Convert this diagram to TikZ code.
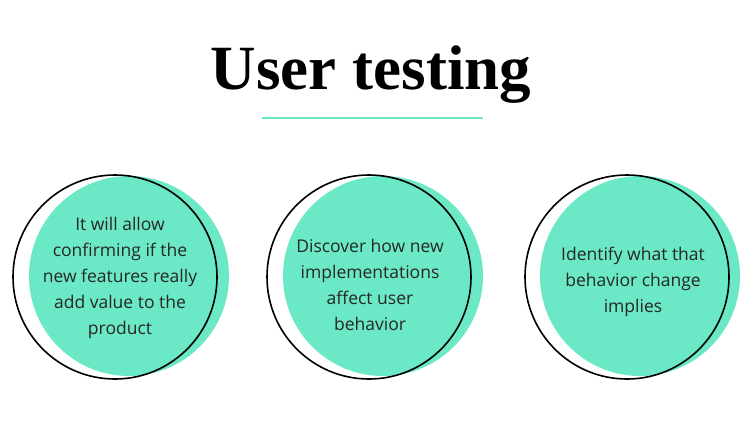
\documentclass[tikz,border=0pt]{standalone}
\usepackage{fontspec}
\setmainfont{Open Sans}
\newfontfamily\titlefont{Liberation Serif}
\definecolor{teal}{HTML}{6BE8C6}
\begin{document}
\begin{tikzpicture}[x=1pt,y=-1pt,
  blob/.style={circle,fill=teal,minimum size=200pt,inner sep=0pt},
  ring/.style={circle,draw=black,line width=1.6pt,minimum size=204pt,inner sep=0pt},
  txt/.style={align=center,font=\fontsize{17.5}{26}\selectfont,text=black!85}]
\useasboundingbox (0,0) rectangle (750,440);
\node (title) at (371,75) {\titlefont\bfseries\fontsize{63}{66}\selectfont User testing};
\draw[teal,line width=1.2pt] (262,118) coordinate (l1) -- (483,118) coordinate (l2);
\node[blob] (b1) at (129,276) {};
\node[ring] (r1) at (115,277) {};
\node[blob] (b2) at (383,276) {};
\node[ring] (r2) at (369,277) {};
\node[blob] (b3) at (640,276) {};
\node[ring] (r3) at (627,277) {};
\node[txt] (t1) at (120,278) {It will allow\\confirming if the\\new features really\\add value to the\\product};
\node[txt] (t2) at (370,285) {Discover how new\\implementations\\affect user\\behavior};
\node[txt] (t3) at (633,282) {Identify what that\\behavior change\\implies};
\end{tikzpicture}
\end{document}
